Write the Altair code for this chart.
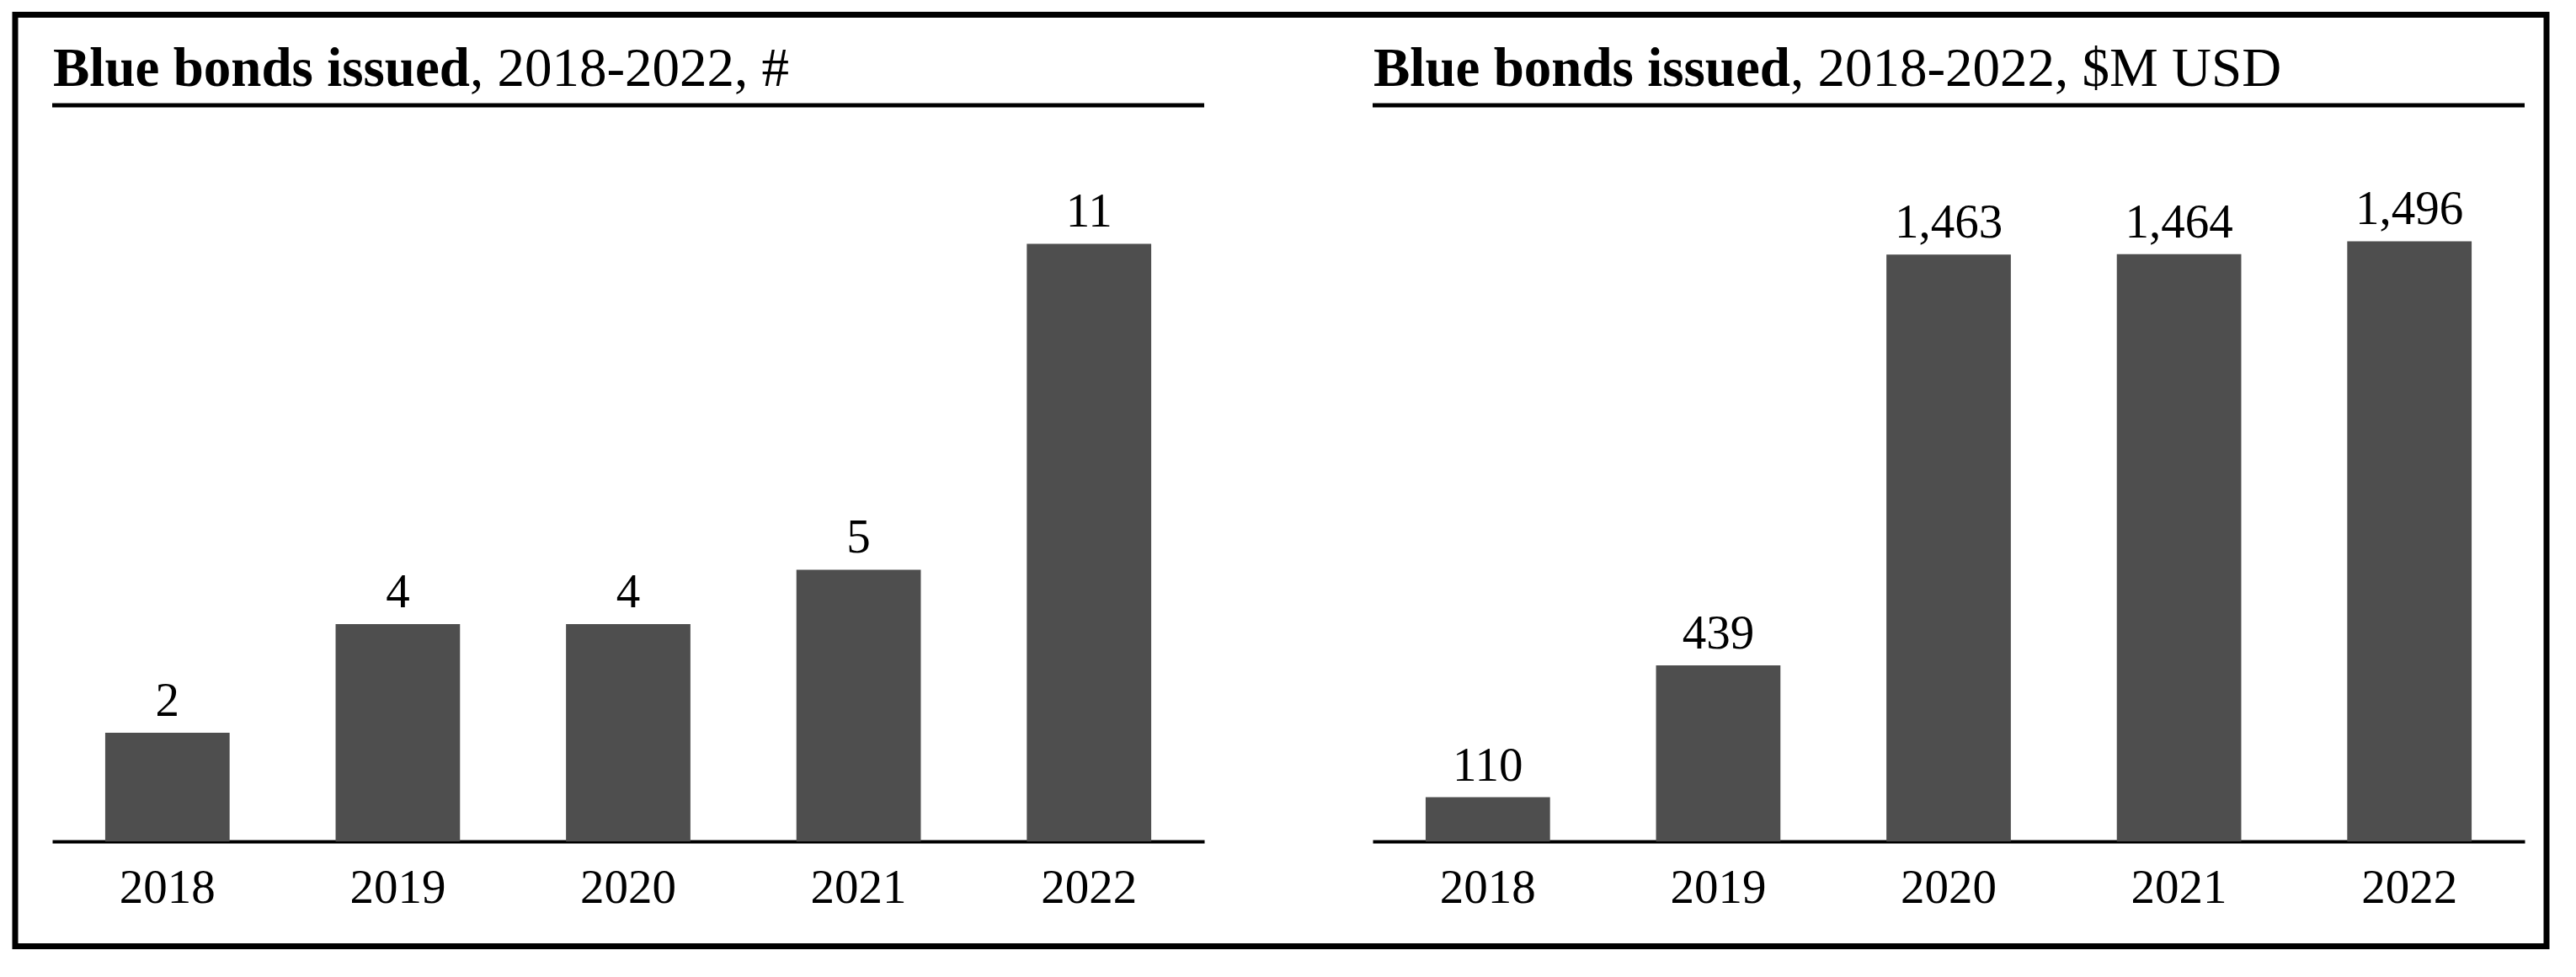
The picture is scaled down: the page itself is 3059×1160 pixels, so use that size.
import altair as alt
import pandas as pd

years = ["2018", "2019", "2020", "2021", "2022"]
count_values = [2, 4, 4, 5, 11]
usd_values = [110, 439, 1463, 1464, 1496]

title_bold = "Blue bonds issued"
left_title_rest = ", 2018-2022, #"
right_title_rest = ", 2018-2022, $M USD"

FONT = "Liberation Serif"
PANEL_W = 1368
PANEL_H = 874
TITLE_SIZE = 65
LABEL_SIZE = 57
BAR_COLOR = "#4e4e4e"
BOLD_EM = 7.614  # width of the bold part in em (Times metrics)

one = pd.DataFrame({"k": [0]})


def panel(values, ymax, rest, with_border=False):
    df = pd.DataFrame({"year": years, "value": values})
    base = alt.Chart(df)
    x = alt.X("year:O", title=None,
              scale=alt.Scale(paddingInner=0.46, paddingOuter=0.23),
              axis=alt.Axis(labelAngle=0, ticks=False, tickSize=0,
                            labelPadding=72, labelBaseline="alphabetic",
                            domainColor="black", domainWidth=4,
                            labelFont=FONT, labelFontSize=LABEL_SIZE,
                            labelColor="black", grid=False))
    y = alt.Y("value:Q", title=None,
              scale=alt.Scale(domain=[0, ymax], nice=False, zero=True),
              axis=None)
    bars = base.mark_bar(color=BAR_COLOR).encode(x=x, y=y)
    labels = base.mark_text(font=FONT, fontSize=LABEL_SIZE, color="black",
                            baseline="alphabetic", dy=-20).encode(
        x=x, y=y, text=alt.Text("value:Q", format=","))
    underline = alt.Chart(one).mark_rule(color="black", strokeWidth=5).encode(
        x=alt.value(0), x2=alt.value(PANEL_W), y=alt.value(0))
    t1 = alt.Chart(one).mark_text(font=FONT, fontSize=TITLE_SIZE, fontWeight="bold",
                                  align="left", baseline="alphabetic",
                                  color="black").encode(
        x=alt.value(1), y=alt.value(-23), text=alt.value(title_bold))
    t2 = alt.Chart(one).mark_text(font=FONT, fontSize=TITLE_SIZE,
                                  align="left", baseline="alphabetic",
                                  color="black").encode(
        x=alt.value(1 + BOLD_EM * TITLE_SIZE), y=alt.value(-23), text=alt.value(rest))
    layers = [bars, labels, underline, t1, t2]
    if with_border:
        border = alt.Chart(one).mark_rect(fillOpacity=0, stroke="black",
                                          strokeWidth=7).encode(
            x=alt.value(-44), x2=alt.value(2962),
            y=alt.value(-107.5), y2=alt.value(998.5))
        layers.append(border)
    return alt.layer(*layers).properties(width=PANEL_W, height=PANEL_H)


left = panel(count_values, 13.55, left_title_rest, with_border=True)
right = panel(usd_values, 1835, right_title_rest)

chart = alt.HConcatChart(
    hconcat=[left, right], spacing=200, bounds="flush",
    padding={"left": 6, "top": 6, "right": 6, "bottom": 6},
    background="white",
).configure_view(stroke=None)

chart.save("out.html", embed_options={"renderer": "svg", "actions": False})
